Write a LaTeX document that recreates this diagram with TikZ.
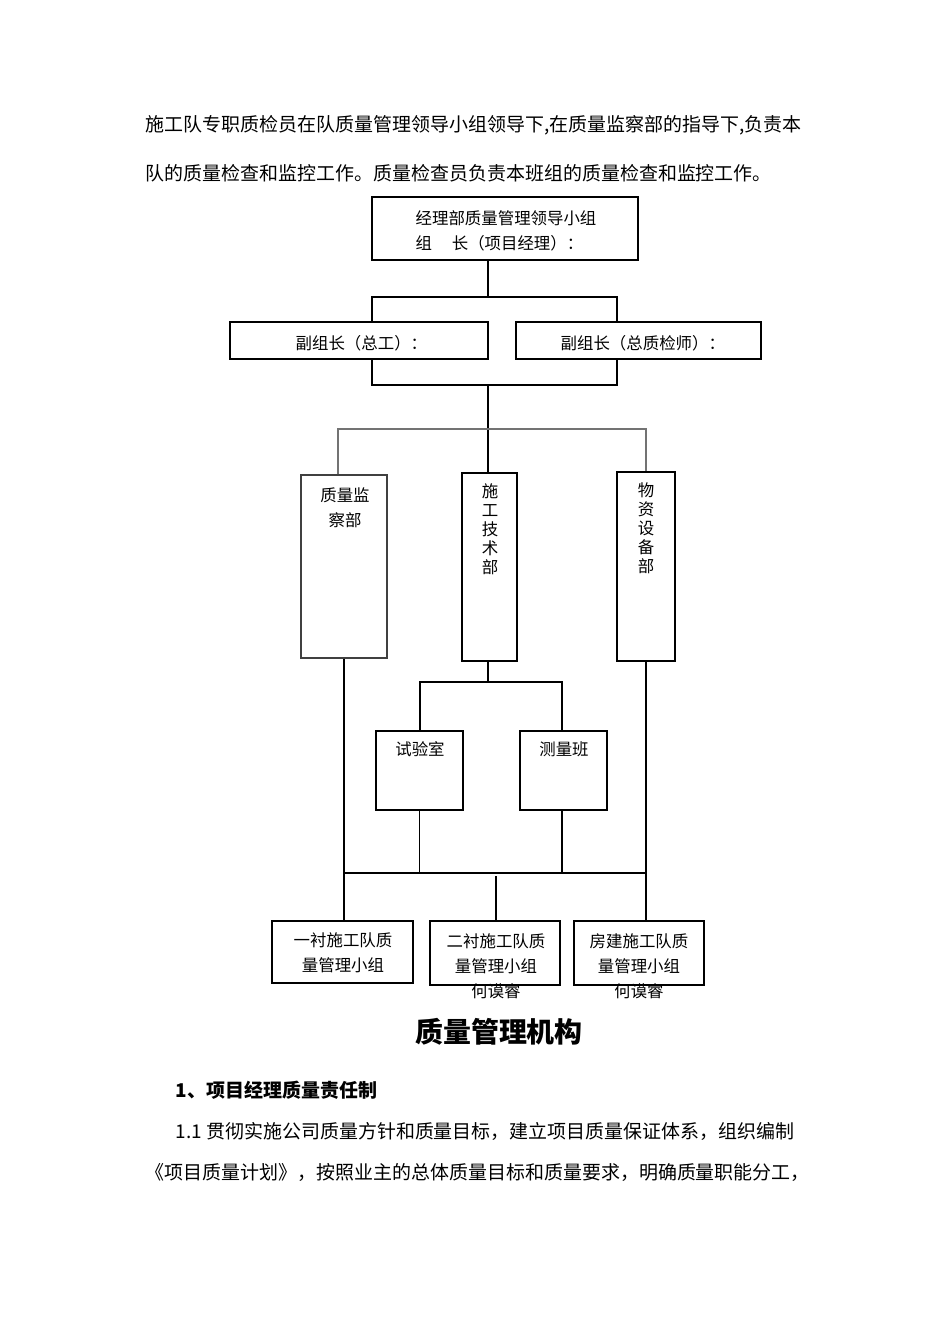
\documentclass[tikz,border=0pt]{standalone}
\usepackage{fontspec}
\setmainfont{Noto Sans CJK SC}
\usetikzlibrary{fit}
\newcommand{\boxfont}{\fontsize{9.35}{14.2}\selectfont}
\newcommand{\vertfont}{\fontsize{9.35}{10.8}\selectfont}
\newcommand{\bodyfont}{\fontsize{10.8}{13}\selectfont}
\tikzset{
  box/.style={draw, inner sep=0pt, line width=.7pt},
  heavybox/.style={box, line width=1.1pt},
  txt/.style={inner sep=0pt, align=center, font=\boxfont},
  vtxt/.style={inner sep=0pt, align=center, font=\vertfont},
  body/.style={inner sep=0pt, anchor=west, font=\bodyfont}
}
\begin{document}
\begin{tikzpicture}[x=0.02cm, y=-0.02cm, line width=.8pt]
\useasboundingbox (0,0) rectangle (950,1344);

% text above the chart
\node[body] (p1) at (145,125) {施工队专职质检员在队质量管理领导小组领导下,在质量监察部的指导下,负责本};
\node[body] (p2) at (145,173) {队的质量检查和监控工作。质量检查员负责本班组的质量检查和监控工作。};

% leading group
\node[box, line width=.9pt, fit={(372,197) (638,260)}] (jlb) {};
\node[txt, anchor=west, align=left] (jlbt) at (415,231) {经理部质量管理领导小组\\组\hspace{1.2em}长（项目经理）：};

\node[box, fit={(230,322) (488,359)}] (fzz1) {};
\node[txt, anchor=west] (fzz1t) at (295,343) {副组长（总工）：};
\node[box, fit={(516,322) (761,359)}] (fzz2) {};
\node[txt, anchor=west] (fzz2t) at (560,343) {副组长（总质检师）：};

% departments
\node[box, draw=black!75, fit={(301,475) (387,658)}] (jcb) {};
\node[txt] (jcbt) at (345,508) {质量监\\察部};
\node[box, fit={(462,473) (517,661)}] (jsb) {};
\node[vtxt] (jsbt) at (490,529) {施\\工\\技\\术\\部};
\node[box, fit={(617,472) (675,661)}] (wzb) {};
\node[vtxt] (wzbt) at (646,528) {物\\资\\设\\备\\部};

\node[box, fit={(376,731) (463,810)}] (syb) {};
\node[txt] (sybt) at (420,749) {试验室};
\node[box, fit={(520,731) (607,810)}] (clb) {};
\node[txt] (clbt) at (564,749) {测量班};

% team groups
\node[box, fit={(272,921) (413,983)}] (ec1) {};
\node[txt] (ec1t) at (343,953) {一衬施工队质\\量管理小组};
\node[heavybox, fit={(430,921) (560,985)}] (ec2) {};
\node[txt] (ec2t) at (496,966) {二衬施工队质\\量管理小组\\何谟睿};
\node[heavybox, fit={(574,921) (704,985)}] (fj) {};
\node[txt] (fjt) at (639,966) {房建施工队质\\量管理小组\\何谟睿};

% connectors
\coordinate (bt) at (488,297);
\coordinate (bl) at (372,297);
\coordinate (br) at (617,297);
\coordinate (cl) at (372,385);
\coordinate (cr) at (617,385);
\coordinate (bb) at (488,385);
\draw[line width=1.2pt] (jlb.south -| bt) -- (bt);
\draw (bl |- fzz1.north) -- (bl) -- (br) -- (br |- fzz2.north);
\draw (cl |- fzz1.south) -- (cl) -- (cr) -- (cr |- fzz2.south);
\draw[line width=1.4pt] (bb) -- (bb |- jsb.north);

\coordinate (gl) at (338,429);
\coordinate (gr) at (646,429);
\draw[black!55] (gl |- jcb.north) -- (gl) -- (gr) -- (gr |- wzb.north);

\coordinate (sl) at (420,682);
\coordinate (sr) at (562,682);
\draw (jsb.south -| bb) -- (bb |- sl);
\draw (sl |- syb.north) -- (sl) -- (sr) -- (sr |- clb.north);

\coordinate (ul) at (344,873);
\coordinate (ur) at (646,873);
\coordinate (um) at (496,876);
\draw[line width=1.4pt] (jcb.south) -- (ul);
\draw (ul) -- (ur);
\draw (wzb.south) -- (ur) -- (ur |- fj.north);
\draw (ul) -- (ul |- ec1.north);
\draw (syb.south) -- (syb.south |- ul);
\draw (sr |- clb.south) -- (sr |- ul);
\draw (um) -- (um |- ec2.north);

% text below the chart
\node[inner sep=0pt, font=\fontsize{15.9}{18}\selectfont\bfseries] (title) at (499,1032) {质量管理机构};
\node[body, font=\bodyfont\bfseries] (h1) at (175,1090) {1、项目经理质量责任制};
\node[body] (p3) at (175,1131) {1.1 贯彻实施公司质量方针和质量目标，建立项目质量保证体系，组织编制};
\node[body] (p4) at (145,1172) {《项目质量计划》，按照业主的总体质量目标和质量要求，明确质量职能分工，};
\end{tikzpicture}
\end{document}
